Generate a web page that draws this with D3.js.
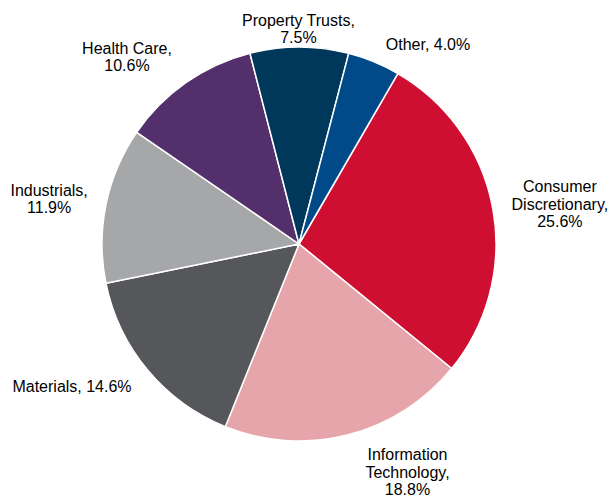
<!DOCTYPE html>
<html>
<head>
<meta charset="utf-8">
<script src="https://cdn.jsdelivr.net/npm/d3@7"></script>
<style>
  body { margin: 0; background: #fff; }
  text { font-family: "Liberation Sans", Arial, sans-serif; font-size: 16px; fill: #000; }
</style>
</head>
<body>
<div id="wrapper"></div>
<script>
const sectors = ["Consumer Discretionary", "Information Technology", "Materials", "Industrials", "Health Care", "Property Trusts", "Other"]
const shares = [25.6, 18.8, 14.6, 11.9, 10.6, 7.5, 4.0]
const labelLines = [
  ["Consumer", "Discretionary,", "25.6%"],
  ["Information", "Technology,", "18.8%"],
  ["Materials, 14.6%"],
  ["Industrials,", "11.9%"],
  ["Health Care,", "10.6%"],
  ["Property Trusts,", "7.5%"],
  ["Other, 4.0%"]
]
const colors = ["#CF0F31", "#E6A4AB", "#56575B", "#A6A7A9", "#532F6B", "#00385C", "#004A89"]

const width = 608
const height = 497
const center = { x: 299, y: 244 }
const radius = 197
const labelRadius = 255
// nudges so labels sit where the original put them
const labelNudge = [[10, 6], [45, -19], [-31, -21], [0, 6], [-26, 22], [-1, 40], [32, 36]]

const svg = d3.select("#wrapper")
  .append("svg")
    .attr("width", width)
    .attr("height", height)

const bounds = svg.append("g")
  .attr("transform", `translate(${center.x}, ${center.y})`)

const pie = d3.pie()
  .sort(null)
  .startAngle(30.1 * Math.PI / 180)
  .endAngle(390.1 * Math.PI / 180)
  .value(d => d)

const arcs = pie(shares)

const arc = d3.arc()
  .innerRadius(0)
  .outerRadius(radius)

const labelArc = d3.arc()
  .innerRadius(labelRadius)
  .outerRadius(labelRadius)

bounds.selectAll("path")
  .data(arcs)
  .join("path")
    .attr("d", arc)
    .attr("fill", (d, i) => colors[i])
    .attr("stroke", "#fff")
    .attr("stroke-width", 1.5)
    .attr("stroke-linejoin", "round")

const lineHeight = 17.5

const labels = bounds.selectAll("text.label")
  .data(arcs)
  .join("text")
    .attr("class", "label")
    .attr("text-anchor", "middle")
    .attr("transform", (d, i) => {
      const [x, y] = labelArc.centroid(d)
      return `translate(${x + labelNudge[i][0]}, ${y + labelNudge[i][1]})`
    })

labels.each(function(d, i) {
  const lines = labelLines[i]
  const offset = -(lines.length - 1) / 2 * lineHeight
  d3.select(this).selectAll("tspan")
    .data(lines)
    .join("tspan")
      .attr("x", 0)
      .attr("y", (l, j) => offset + j * lineHeight)
      .attr("dy", "0.35em")
      .text(l => l)
})
</script>
</body>
</html>
